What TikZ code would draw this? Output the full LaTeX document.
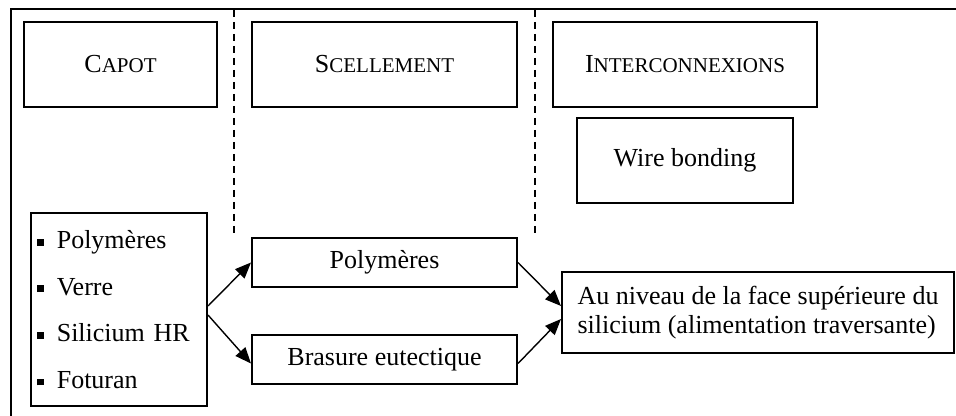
\documentclass[tikz,border=0pt]{standalone}
\usepackage{fontspec}
\setmainfont{Liberation Serif}
\usetikzlibrary{positioning, arrows.meta}

% fake small caps (Liberation Serif has none)
\newcommand{\petitcap}[2]{#1{\fontsize{10.5pt}{12pt}\selectfont #2}}
\newcommand{\puce}{\rule[1.5pt]{3.4pt}{3.4pt}\hspace{6.5pt}}

\begin{document}
\begin{tikzpicture}[
        x=0.5pt, y=-0.5pt,
        font=\fontsize{13pt}{15.6pt}\selectfont,
        >={Triangle[length=8pt, width=6.5pt]},
        % Styles
        boite/.style={draw=black, line width=1pt, inner sep=0pt, align=center},
        titre/.style={boite, minimum height=42.5pt},
        choix/.style={boite, minimum width=132.5pt, minimum height=24.5pt},
        fleche/.style={->, line width=0.7pt},
        separateur/.style={dashed, dash pattern=on 3.5pt off 2.5pt, line width=0.8pt}
    ]
    \useasboundingbox (0,0) rectangle (956,416);

    % Frame (top and left edges only)
    \draw[line width=1pt] (956,9.5) -- (10.5,9.5) -- (10.5,416);

    % Column separators
    \coordinate (sep1_top) at (234,10);
    \coordinate (sep1_bot) at (234,236);
    \coordinate (sep2_top) at (535,10);
    \coordinate (sep2_bot) at (535,236);
    \draw[separateur] (sep1_top) -- (sep1_bot);
    \draw[separateur] (sep2_top) -- (sep2_bot);

    % Column headings (top row)
    \node[titre, minimum width=96.5pt] (capot) at (120.5,64.5) {\petitcap{C}{APOT}};
    \node[titre, minimum width=132.5pt, right=16.5pt of capot] (scellement) {\petitcap{S}{CELLEMENT}};
    \node[titre, minimum width=132pt, right=17pt of scellement] (interco) {\petitcap{I}{NTERCONNEXIONS}};
    \node[titre, minimum width=108pt, below=4.5pt of interco] (wire) {Wire bonding};

    % Materials list
    \node[boite, text width=82pt, minimum height=96.5pt, inner xsep=3pt, align=left,
          font=\fontsize{13pt}{23.3pt}\selectfont] (liste) at (119,309.5)
        {\puce Polymères\\ \puce Verre\\ \puce Silicium HR\\ \puce Foturan};

    % Sealing choices
    \node[choix, below=64.5pt of scellement] (polym) {Polymères};
    \node[choix, below=23pt of polym] (brasure) {Brasure eutectique};

    % Interconnection target
    \node[boite, minimum width=196pt, minimum height=40.5pt, inner xsep=5pt, align=left,
          font=\fontsize{13pt}{14.7pt}\selectfont] (niveau) at (758,312.5)
        {Au niveau de la face supérieure du\\silicium (alimentation traversante)};

    \draw[fleche] ([yshift=1.75pt]liste.east) -- (polym.west);
    \draw[fleche] ([yshift=-2.75pt]liste.east) -- ([yshift=-2pt]brasure.west);
    \draw[fleche] (polym.east) -- ([yshift=3.25pt]niveau.west);
    \draw[fleche] ([yshift=-2pt]brasure.east) -- ([yshift=-3.25pt]niveau.west);

\end{tikzpicture}
\end{document}
